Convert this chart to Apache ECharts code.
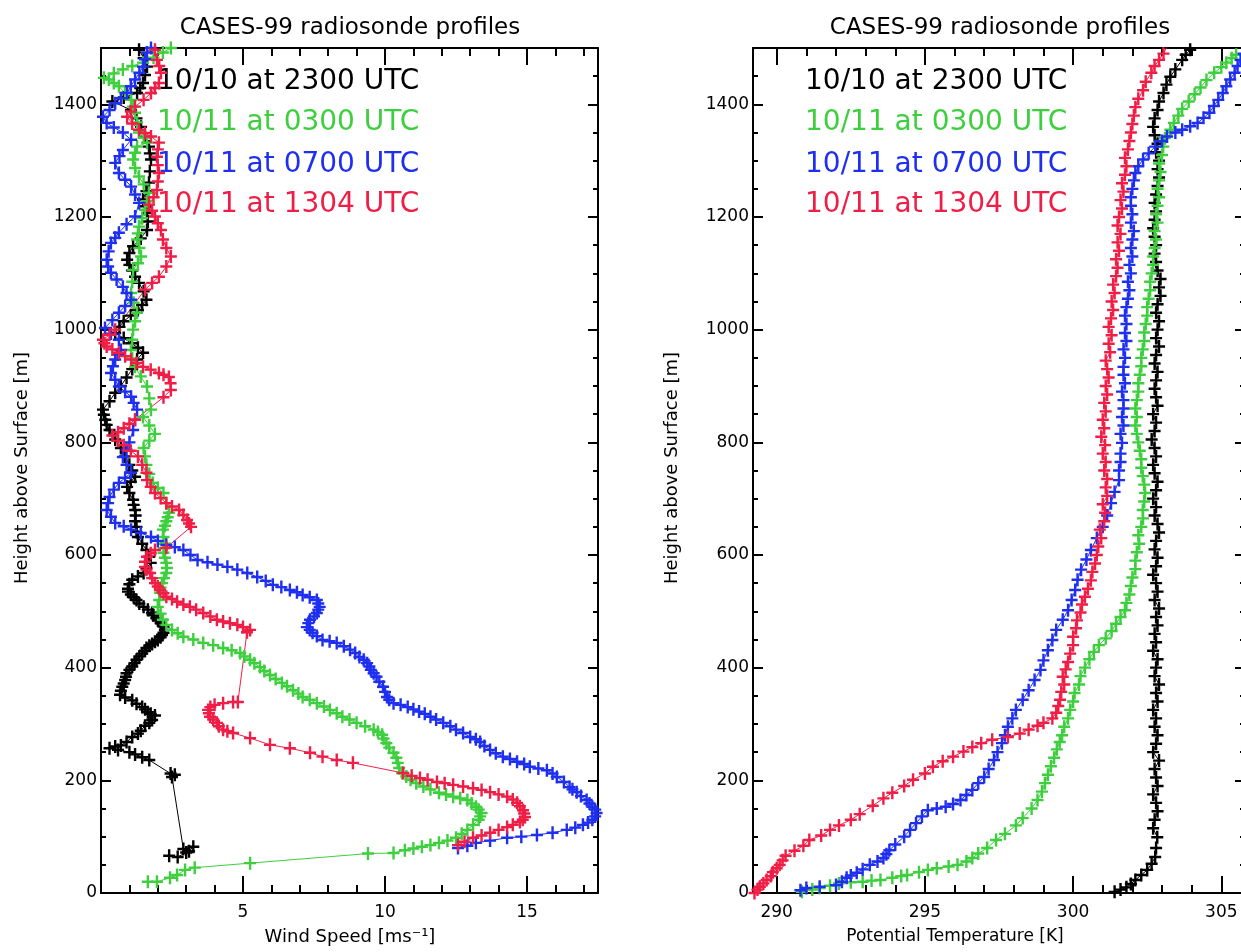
<!DOCTYPE html>
<html>
<head>
<meta charset="utf-8">
<script src="https://cdn.jsdelivr.net/npm/echarts@6/dist/echarts.min.js"></script>
<style>
  html, body { margin: 0; padding: 0; background: #fff; }
  #chart { width: 1241px; height: 952px; }
</style>
</head>
<body>
<div id="chart"></div>
<script>
// sounding labels, one per launch
const launches = ['10/10 at 2300 UTC', '10/11 at 0300 UTC', '10/11 at 0700 UTC', '10/11 at 1304 UTC']
const launchColors = ['#000000', '#3ecf3e', '#1f2ff0', '#f01e46']

// tick values
const windMajor = [0, 5, 10, 15]
const windLabels = [5, 10, 15]
const windMinor = [1, 2, 3, 4, 6, 7, 8, 9, 11, 12, 13, 14, 16, 17]
const thetaMajor = [290, 295, 300, 305]
const thetaMinor = [291, 292, 293, 294, 296, 297, 298, 299, 301, 302, 303, 304]
const heightMajor = [0, 200, 400, 600, 800, 1000, 1200, 1400]
const heightMinor = [50, 100, 150, 250, 300, 350, 450, 500, 550, 650, 700, 750, 850, 900, 950, 1050, 1100, 1150, 1250, 1300, 1350, 1450]

// wind speed profiles [m/s, height m]
const windBlack = [[2.4, 66], [2.7, 64], [3.0, 72], [3.25, 82], [3.1, 74], [2.9, 78], [2.5, 206], [2.6, 210], [2.45, 212], [1.7, 236],
  [1.45, 241], [1.2, 246], [1.0, 250], [0.6, 254], [0.3, 257], [0.5, 260], [0.7, 262], [0.9, 268], [1.1, 277], [1.3, 283], [1.4, 288],
  [1.55, 297], [1.7, 302], [1.8, 307], [1.9, 315], [1.75, 318], [1.65, 321], [1.55, 326], [1.45, 330], [1.25, 336], [1.1, 342], [0.85, 347],
  [0.67, 352], [0.7, 359], [0.75, 366], [0.8, 372], [0.85, 378], [0.88, 384], [0.9, 390], [1.0, 396], [1.1, 402], [1.18, 408], [1.25, 414],
  [1.35, 420], [1.45, 425], [1.55, 430], [1.6, 435], [1.7, 439], [1.8, 442], [1.9, 446], [2.0, 449], [2.1, 454], [2.15, 458], [2.2, 462],
  [2.25, 467], [2.2, 473], [2.1, 479], [2.0, 484], [1.95, 488], [1.85, 493], [1.8, 497], [1.65, 503], [1.5, 508], [1.35, 514], [1.25, 520],
  [1.15, 525], [1.05, 530], [0.95, 535], [0.95, 540], [1.0, 548], [1.1, 556], [1.3, 562], [1.5, 568], [1.6, 577], [1.75, 586], [1.7, 597],
  [1.6, 609], [1.45, 620], [1.3, 632], [1.25, 641], [1.25, 650], [1.2, 660], [1.22, 670], [1.2, 680], [1.15, 689], [1.13, 698], [1.0, 710],
  [0.92, 721], [1.05, 730], [1.2, 739], [1.1, 750], [1.0, 760], [0.85, 775], [0.7, 790], [0.5, 805], [0.3, 822], [0.2, 831], [0.15, 840],
  [0.1, 849], [0.07, 858], [0.3, 873], [0.5, 888], [0.7, 900], [0.9, 915], [1.1, 930], [1.27, 947], [1.48, 959], [1.3, 968], [1.06, 976],
  [0.8, 985], [0.5, 994], [0.65, 1005], [0.8, 1015], [1.05, 1025], [1.3, 1035], [1.45, 1044], [1.6, 1053], [1.5, 1068], [1.34, 1083],
  [1.2, 1094], [1.1, 1105], [1.0, 1115], [0.92, 1124], [1.0, 1136], [1.13, 1148], [1.4, 1162], [1.62, 1177], [1.65, 1192], [1.62, 1207],
  [1.55, 1219], [1.48, 1231], [1.6, 1246], [1.69, 1261], [1.72, 1281], [1.76, 1302], [1.72, 1313], [1.69, 1325], [1.55, 1342], [1.41, 1360],
  [1.25, 1375], [1.06, 1390], [0.4, 1405], [0.8, 1412], [1.27, 1420], [1.38, 1429], [1.48, 1438], [1.55, 1452], [1.62, 1467], [1.5, 1482],
  [1.34, 1497]]
const windGreen = [[1.65, 20], [1.97, 20], [2.43, 27], [2.68, 32], [2.96, 41], [3.3, 45], [5.25, 53], [9.4, 70], [10.3, 71], [10.7, 76],
  [11.0, 79], [11.3, 82], [11.6, 85], [11.9, 89], [12.2, 93], [12.5, 98], [12.7, 105], [12.9, 112], [13.1, 121], [13.3, 130], [13.35, 136],
  [13.4, 142], [13.3, 148], [13.2, 153], [13.05, 159], [12.9, 165], [12.65, 168], [12.4, 171], [12.15, 175], [11.9, 178], [11.6, 184],
  [11.35, 189], [11.1, 195], [10.9, 201], [10.75, 207], [10.6, 213], [10.5, 222], [10.45, 231], [10.4, 240], [10.3, 249], [10.15, 258],
  [10.05, 266], [9.95, 274], [9.9, 281], [9.75, 286], [9.6, 290], [9.3, 296], [9.0, 302], [8.75, 308], [8.5, 313], [8.3, 319], [8.06, 325],
  [7.85, 331], [7.6, 337], [7.35, 343], [7.1, 348], [6.95, 354], [6.76, 360], [6.55, 367], [6.37, 373], [6.15, 380], [5.95, 387], [5.75, 394],
  [5.6, 401], [5.4, 408], [5.25, 414], [5.05, 420], [4.9, 426], [4.6, 431], [4.3, 435], [3.95, 440], [3.6, 444], [3.25, 450], [2.9, 455],
  [2.7, 461], [2.5, 467], [2.3, 476], [2.18, 485], [2.1, 496], [2.0, 508], [2.05, 520], [2.08, 533], [2.1, 542], [2.15, 550], [2.22, 559],
  [2.3, 568], [2.32, 577], [2.3, 586], [2.25, 595], [2.2, 604], [2.22, 612], [2.25, 620], [2.2, 632], [2.18, 645], [2.25, 652], [2.3, 660],
  [2.35, 667], [2.4, 675], [2.3, 692], [2.2, 710], [2.0, 719], [1.83, 728], [1.7, 744], [1.6, 760], [1.55, 775], [1.5, 790], [1.7, 803],
  [1.9, 815], [1.7, 830], [1.48, 845], [1.76, 858], [1.7, 878], [1.62, 899], [1.4, 917], [1.2, 934], [1.1, 949], [1.06, 964], [1.1, 982],
  [1.13, 1000], [1.2, 1015], [1.27, 1030], [1.15, 1048], [1.06, 1065], [1.1, 1085], [1.13, 1106], [1.3, 1118], [1.41, 1130], [1.35, 1145],
  [1.27, 1160], [1.3, 1171], [1.34, 1183], [1.45, 1198], [1.55, 1213], [1.62, 1228], [1.69, 1243], [1.5, 1258], [1.34, 1272], [1.2, 1287],
  [1.13, 1302], [1.2, 1314], [1.27, 1325], [1.62, 1332], [1.5, 1341], [1.34, 1350], [1.27, 1368], [1.2, 1385], [1.13, 1396], [1.06, 1408],
  [0.85, 1420], [0.63, 1432], [0.45, 1438], [0.28, 1444], [0.1, 1447], [0.45, 1455], [0.77, 1462], [1.1, 1468], [1.48, 1474], [1.85, 1483],
  [2.18, 1492], [2.46, 1500]]
const windBlue = [[12.57, 80], [12.9, 84], [13.2, 89], [13.7, 93], [14.3, 98], [14.8, 100], [15.35, 103], [15.9, 107], [16.4, 112],
  [16.7, 116], [16.97, 121], [17.15, 125], [17.3, 130], [17.4, 136], [17.45, 142], [17.4, 148], [17.3, 153], [17.2, 159], [17.1, 165],
  [16.9, 172], [16.75, 179], [16.6, 184], [16.5, 188], [16.3, 197], [16.05, 206], [15.9, 212], [15.7, 218], [15.4, 221], [15.1, 224],
  [14.9, 229], [14.65, 233], [14.4, 238], [14.15, 242], [13.9, 248], [13.7, 254], [13.5, 261], [13.35, 268], [13.2, 273], [13.0, 277],
  [12.75, 284], [12.5, 290], [12.3, 296], [12.05, 302], [11.8, 308], [11.6, 313], [11.4, 318], [11.2, 322], [11.0, 326], [10.8, 330],
  [10.55, 334], [10.3, 337], [10.15, 343], [10.07, 348], [10.0, 357], [9.93, 366], [9.8, 375], [9.7, 384], [9.6, 390], [9.5, 396], [9.45, 402],
  [9.37, 408], [9.25, 414], [9.1, 419], [8.95, 426], [8.77, 432], [8.55, 438], [8.3, 444], [8.05, 447], [7.8, 449], [7.6, 456], [7.45, 462],
  [7.35, 467], [7.25, 472], [7.3, 479], [7.36, 485], [7.5, 491], [7.6, 497], [7.65, 503], [7.7, 508], [7.65, 514], [7.6, 520], [7.35, 525],
  [7.1, 529], [6.9, 534], [6.65, 538], [6.35, 543], [6.05, 547], [5.8, 554], [5.5, 561], [5.15, 568], [4.8, 574], [4.45, 579], [4.1, 583],
  [3.75, 587], [3.4, 591], [3.15, 600], [2.9, 609], [2.6, 614], [2.3, 618], [2.0, 625], [1.76, 632], [1.4, 639], [1.06, 645], [0.8, 651],
  [0.5, 657], [0.35, 668], [0.2, 680], [0.25, 692], [0.3, 703], [0.45, 716], [0.63, 728], [0.85, 737], [1.06, 746], [0.9, 760], [0.77, 774],
  [0.9, 787], [1.0, 800], [1.13, 822], [1.2, 840], [1.27, 858], [1.15, 870], [1.06, 881], [0.85, 890], [0.63, 899], [0.5, 911], [0.35, 923],
  [0.42, 935], [0.5, 947], [0.6, 956], [0.7, 964], [0.63, 982], [0.35, 993], [0.14, 1003], [0.4, 1017], [0.63, 1030], [0.85, 1042],
  [1.06, 1053], [0.9, 1065], [0.77, 1076], [0.55, 1089], [0.35, 1101], [0.25, 1112], [0.2, 1124], [0.27, 1139], [0.35, 1154], [0.5, 1163],
  [0.63, 1172], [0.9, 1187], [1.2, 1201], [1.34, 1225], [1.2, 1240], [1.06, 1254], [0.85, 1266], [0.63, 1278], [0.5, 1296], [0.65, 1308],
  [0.77, 1319], [1.06, 1337], [0.77, 1350], [0.45, 1359], [0.2, 1367], [0.07, 1378], [0.3, 1390], [0.5, 1402], [0.7, 1411], [0.92, 1420],
  [1.05, 1432], [1.2, 1444], [1.35, 1456], [1.48, 1467], [1.55, 1480], [1.62, 1492], [1.76, 1500]]
const windRed = [[12.57, 85], [12.8, 91], [13.1, 98], [13.4, 102], [13.7, 107], [14.0, 112], [14.3, 117], [14.5, 121], [14.75, 126],
  [14.85, 130], [14.93, 135], [14.9, 141], [14.86, 147], [14.75, 154], [14.65, 160], [14.5, 166], [14.3, 171], [14.0, 175], [13.7, 179],
  [13.4, 183], [13.1, 186], [12.75, 189], [12.4, 192], [12.1, 195], [11.83, 197], [11.5, 201], [11.23, 204], [10.94, 208], [10.64, 213],
  [8.87, 231], [8.3, 236], [7.8, 242], [7.36, 249], [6.65, 257], [5.95, 263], [5.25, 275], [4.65, 284], [4.45, 287], [4.3, 290], [4.15, 296],
  [4.08, 302], [3.95, 308], [3.84, 313], [3.8, 319], [3.77, 325], [3.85, 330], [4.0, 334], [4.3, 337], [4.65, 339], [4.82, 339], [5.14, 463],
  [5.25, 467], [5.0, 472], [4.8, 476], [4.54, 479], [4.3, 482], [4.08, 485], [3.85, 491], [3.6, 497], [3.35, 503], [3.13, 508], [2.9, 512],
  [2.68, 517], [2.5, 522], [2.3, 526], [2.2, 532], [2.08, 538], [2.0, 544], [1.9, 550], [1.8, 559], [1.73, 568], [1.6, 574], [1.55, 579],
  [1.55, 588], [1.62, 597], [1.75, 603], [1.9, 609], [2.3, 613], [3.17, 650], [3.1, 656], [3.03, 662], [2.9, 671], [2.75, 680], [2.5, 686],
  [2.3, 692], [2.1, 701], [1.9, 710], [1.75, 721], [1.62, 733], [1.6, 746], [1.45, 760], [1.3, 775], [1.05, 785], [0.8, 795], [0.6, 803],
  [0.4, 812], [0.6, 818], [0.8, 825], [1.0, 833], [1.2, 840], [2.2, 880], [2.46, 893], [2.45, 905], [2.39, 916], [2.2, 920], [2.04, 923],
  [1.75, 929], [1.48, 934], [1.25, 941], [1.06, 947], [0.85, 953], [0.63, 959], [0.4, 965], [0.2, 970], [0.12, 976], [0.07, 982], [0.3, 991],
  [0.5, 1000], [1.55, 1071], [1.8, 1083], [2.04, 1094], [2.3, 1112], [2.46, 1130], [2.3, 1145], [2.18, 1160], [2.11, 1177], [2.0, 1189],
  [1.9, 1201], [1.8, 1211], [1.69, 1222], [1.85, 1235], [1.97, 1248], [2.0, 1263], [2.04, 1278], [2.0, 1292], [1.97, 1307], [2.0, 1320],
  [2.04, 1332], [1.76, 1343], [1.55, 1349], [1.34, 1355], [1.1, 1366], [0.92, 1378], [1.05, 1387], [1.2, 1396], [1.5, 1408], [1.76, 1420],
  [1.9, 1429], [2.04, 1438], [2.11, 1456], [2.05, 1468], [1.97, 1479], [1.9, 1497]]

// potential temperature profiles [K, height m]
const thetaBlack = [[301.4, 2], [301.6, 6], [301.8, 10], [301.95, 16], [302.1, 23], [302.3, 32], [302.5, 41], [302.65, 52], [302.77, 64],
  [302.8, 80], [302.84, 99], [302.7, 115], [302.75, 130], [302.85, 145], [302.8, 160], [302.7, 175], [302.85, 190], [302.8, 205],
  [302.75, 220], [302.9, 235], [302.7, 250], [302.8, 265], [302.85, 280], [302.75, 295], [302.8, 310], [302.7, 325], [302.85, 340],
  [302.8, 355], [302.9, 370], [302.75, 385], [302.8, 400], [302.85, 415], [302.7, 430], [302.8, 445], [302.75, 460], [302.85, 475],
  [302.8, 490], [302.9, 505], [302.75, 520], [302.85, 535], [302.8, 550], [302.7, 565], [302.8, 580], [302.85, 595], [302.75, 610],
  [302.8, 625], [302.9, 640], [302.85, 655], [302.75, 670], [302.8, 685], [302.7, 700], [302.8, 715], [302.85, 730], [302.75, 745],
  [302.7, 760], [302.8, 775], [302.75, 790], [302.65, 805], [302.75, 820], [302.8, 835], [302.7, 850], [302.85, 865], [302.8, 880],
  [302.75, 895], [302.8, 910], [302.85, 925], [302.75, 940], [302.8, 955], [302.9, 970], [302.8, 985], [302.85, 1000], [302.9, 1015],
  [302.8, 1030], [302.85, 1045], [302.95, 1060], [302.9, 1075], [302.95, 1090], [302.85, 1105], [302.8, 1120], [302.75, 1135], [302.8, 1150],
  [302.75, 1165], [302.7, 1180], [302.75, 1195], [302.8, 1210], [302.75, 1225], [302.8, 1240], [302.85, 1255], [302.9, 1270], [302.85, 1285],
  [302.9, 1300], [302.8, 1315], [302.85, 1330], [302.75, 1345], [302.7, 1360], [302.75, 1375], [302.85, 1390], [302.9, 1405], [303.05, 1420],
  [303.15, 1435], [303.28, 1449], [303.45, 1462], [303.68, 1479], [303.8, 1488], [303.95, 1497]]
const thetaGreen = [[290.85, 2], [291.2, 6], [291.45, 9], [291.8, 13], [292.1, 17], [292.5, 19], [292.9, 20], [293.2, 22], [293.5, 23],
  [293.9, 27], [294.2, 30], [294.4, 32], [294.8, 37], [295.1, 41], [295.4, 44], [295.8, 47], [296.1, 50], [296.4, 56], [296.6, 62],
  [296.8, 70], [297.1, 80], [297.4, 94], [297.7, 105], [298.07, 120], [298.3, 133], [298.6, 150], [298.8, 165], [298.95, 180], [299.05, 195],
  [299.15, 210], [299.25, 225], [299.36, 240], [299.45, 255], [299.55, 268], [299.63, 280], [299.7, 295], [299.83, 310], [299.9, 325],
  [300.0, 340], [300.05, 355], [300.2, 370], [300.25, 385], [300.4, 400], [300.55, 415], [300.7, 428], [300.87, 440], [301.1, 452],
  [301.3, 465], [301.45, 478], [301.6, 490], [301.75, 502], [301.8, 515], [301.9, 530], [301.95, 545], [302.0, 560], [302.1, 575],
  [302.1, 590], [302.15, 605], [302.23, 620], [302.2, 635], [302.3, 650], [302.36, 665], [302.35, 680], [302.4, 695], [302.43, 710],
  [302.4, 725], [302.35, 740], [302.3, 755], [302.3, 770], [302.25, 785], [302.2, 800], [302.15, 815], [302.1, 830], [302.15, 845],
  [302.1, 860], [302.15, 875], [302.2, 890], [302.2, 905], [302.25, 920], [302.3, 935], [302.3, 950], [302.35, 965], [302.4, 980],
  [302.4, 995], [302.45, 1010], [302.5, 1025], [302.5, 1040], [302.55, 1055], [302.6, 1070], [302.6, 1085], [302.65, 1100], [302.7, 1115],
  [302.7, 1130], [302.75, 1145], [302.8, 1160], [302.75, 1175], [302.85, 1190], [302.8, 1205], [302.85, 1220], [302.9, 1235], [302.85, 1250],
  [302.9, 1265], [302.95, 1280], [302.9, 1295], [303.0, 1310], [303.04, 1325], [303.1, 1340], [303.28, 1355], [303.4, 1367], [303.55, 1380],
  [303.68, 1392], [303.9, 1405], [304.1, 1418], [304.3, 1430], [304.5, 1443], [304.76, 1456], [305.0, 1466], [305.17, 1474],
  [305.35, 1482], [305.5, 1488]]
const thetaBlue = [[290.8, 5], [291.0, 9], [291.45, 11], [292.0, 14], [292.2, 20], [292.36, 27], [292.5, 31], [292.7, 36], [292.9, 42],
  [293.14, 50], [293.4, 56], [293.6, 62], [293.7, 69], [293.8, 76], [294.0, 86], [294.3, 100], [294.5, 112], [294.7, 124], [294.9, 136],
  [295.1, 147], [295.4, 150], [295.7, 153], [295.95, 158], [296.2, 165], [296.4, 174], [296.6, 183], [296.8, 195], [297.0, 206],
  [297.15, 220], [297.33, 236], [297.45, 250], [297.6, 266], [297.7, 280], [297.8, 295], [297.95, 310], [298.07, 325], [298.3, 343],
  [298.5, 360], [298.7, 378], [298.9, 396], [299.0, 413], [299.15, 431], [299.3, 449], [299.43, 467], [299.65, 485], [299.83, 502],
  [299.95, 520], [300.07, 538], [300.15, 556], [300.27, 574], [300.45, 592], [300.6, 609], [300.8, 630], [301.0, 650], [301.15, 670],
  [301.28, 692], [301.4, 712], [301.55, 733], [301.55, 750], [301.6, 765], [301.6, 780], [301.65, 799], [301.6, 815], [301.7, 830],
  [301.65, 845], [301.7, 860], [301.7, 875], [301.65, 890], [301.75, 905], [301.7, 920], [301.7, 934], [301.75, 950], [301.7, 965],
  [301.8, 980], [301.75, 994], [301.8, 1010], [301.75, 1025], [301.8, 1040], [301.85, 1055], [301.9, 1070], [301.85, 1085], [301.95, 1100],
  [301.9, 1115], [302.0, 1130], [301.95, 1145], [302.0, 1160], [302.05, 1175], [301.95, 1190], [302.0, 1205], [301.95, 1220],
  [301.95, 1235], [302.0, 1250], [302.05, 1265], [302.1, 1278], [302.2, 1290], [302.36, 1302], [302.55, 1313], [302.77, 1325], [303.0, 1335],
  [303.17, 1343], [303.45, 1350], [303.68, 1355], [303.95, 1361], [304.2, 1367], [304.4, 1376], [304.6, 1385], [304.75, 1397], [304.9, 1408],
  [305.05, 1420], [305.17, 1432], [305.3, 1444], [305.45, 1456], [305.55, 1468], [305.65, 1479], [305.75, 1490]]
const thetaRed = [[289.25, 0], [289.35, 6], [289.43, 11], [289.55, 17], [289.66, 23], [289.8, 30], [289.87, 37], [290.0, 44], [290.1, 50],
  [290.2, 58], [290.3, 66], [290.6, 75], [290.9, 84], [291.1, 94], [291.5, 102], [291.8, 112], [292.1, 120], [292.5, 130], [292.8, 140],
  [293.24, 155], [293.6, 168], [293.9, 178], [294.3, 190], [294.6, 201], [295.0, 212], [295.27, 224], [295.6, 234], [295.95, 242],
  [296.3, 251], [296.6, 259], [296.9, 266], [297.27, 272], [297.8, 277], [298.2, 283], [298.5, 290], [298.8, 297], [299.0, 302],
  [299.3, 310], [299.43, 320], [299.5, 332], [299.56, 343], [299.6, 357], [299.7, 370], [299.65, 384], [299.75, 397], [299.83, 410],
  [299.9, 425], [300.0, 440], [300.0, 455], [300.1, 470], [300.13, 484], [300.25, 498], [300.3, 512], [300.4, 526], [300.5, 540],
  [300.6, 555], [300.65, 570], [300.74, 585], [300.8, 600], [300.85, 615], [300.95, 630], [300.9, 645], [301.05, 660], [301.08, 675],
  [301.0, 690], [301.15, 705], [301.1, 720], [301.15, 735], [301.05, 750], [301.1, 765], [301.0, 780], [301.08, 795], [300.95, 810],
  [301.05, 825], [301.0, 840], [301.1, 855], [301.05, 870], [301.15, 885], [301.1, 900], [301.2, 915], [301.15, 930], [301.1, 945],
  [301.25, 960], [301.2, 975], [301.3, 990], [301.2, 1005], [301.28, 1020], [301.35, 1035], [301.3, 1050], [301.4, 1065], [301.35, 1080],
  [301.45, 1095], [301.5, 1110], [301.45, 1125], [301.55, 1140], [301.5, 1155], [301.6, 1170], [301.5, 1185], [301.55, 1200], [301.65, 1215],
  [301.6, 1230], [301.7, 1245], [301.65, 1260], [301.75, 1275], [301.8, 1290], [301.75, 1305], [301.85, 1320], [301.9, 1335], [301.95, 1350],
  [302.0, 1365], [302.05, 1380], [302.1, 1395], [302.2, 1410], [302.36, 1425], [302.45, 1440], [302.64, 1456], [302.75, 1468],
  [302.9, 1479], [303.05, 1490], [303.17, 1502]]

const windProfiles = [windBlack, windGreen, windBlue, windRed]
const thetaProfiles = [thetaBlack, thetaGreen, thetaBlue, thetaRed]

const chart = echarts.init(document.getElementById('chart'))

const plus = 'path://M4.8,0H7.2V5.3H12V7.7H7.2V13H4.8V7.7H0V5.3H4.8Z'
const font = '"DejaVu Sans", "Liberation Sans", sans-serif'

// one axis of a box frame; main ones carry the line, minor ones only short ticks
function frameAxis(gridIndex, position, min, max, ticks, len, withLine, labels, labelMargin) {
  return {
    type: 'value', gridIndex, position, min, max,
    axisLine: { show: withLine, onZero: false, lineStyle: { color: '#000', width: 2 } },
    axisTick: { show: true, inside: true, length: len, customValues: ticks, lineStyle: { color: '#000', width: 2 } },
    axisLabel: labels ? {
      show: true, customValues: labels, margin: labelMargin, color: '#000',
      fontFamily: font, fontSize: 17, formatter: v => String(v)
    } : { show: false },
    splitLine: { show: false },
    minorTick: { show: false }
  }
}

function xFrame(gi, min, max, major, minor, labels) {
  return [
    frameAxis(gi, 'bottom', min, max, major, 17, true, labels, 11),
    frameAxis(gi, 'bottom', min, max, minor, 8, false),
    frameAxis(gi, 'top', min, max, major, 17, true),
    frameAxis(gi, 'top', min, max, minor, 8, false)
  ]
}
function yFrame(gi) {
  return [
    frameAxis(gi, 'left', 0, 1500, heightMajor, 10, true, heightMajor, 4),
    frameAxis(gi, 'left', 0, 1500, heightMinor, 5, false),
    frameAxis(gi, 'right', 0, 1500, heightMajor, 10, true),
    frameAxis(gi, 'right', 0, 1500, heightMinor, 5, false)
  ]
}

function profile(gi, i, data) {
  return {
    type: 'line', name: launches[i], data,
    xAxisIndex: gi * 4, yAxisIndex: gi * 4,
    symbol: plus, symbolSize: [12, 13], showSymbol: true,
    lineStyle: { color: launchColors[i], width: 1 },
    itemStyle: { color: launchColors[i] },
    silent: true, clip: true
  }
}

function text(x, y, str, size, color, extra) {
  return Object.assign({
    type: 'text', x, y, z: 0, silent: true,
    style: { text: str, fill: color || '#000', font: size + 'px ' + font, align: 'center', verticalAlign: 'middle' }
  }, extra || {})
}

const panels = [{ left: 101, cx: 350, nameX: 22 }, { left: 753, cx: 1000, nameX: 672 }]
const legendY = [82, 123, 165, 205]
const graphics = []
panels.forEach((p, gi) => {
  graphics.push(text(p.cx, 28, 'CASES-99 radiosonde profiles', 23))
  graphics.push(text(p.nameX, 468, 'Height above Surface [m]', 18, '#000', { rotation: Math.PI / 2 }))
  launches.forEach((s, i) => {
    const t = text(p.left + 56 + (gi ? -4 : 0), legendY[i], s, 28, launchColors[i])
    t.style.align = 'left'
    graphics.push(t)
  })
})
graphics.push(text(350, 937, 'Wind Speed [ms⁻¹]', 18))
graphics.push(text(955, 937, 'Potential Temperature [K]', 17))

chart.setOption({
  animation: false,
  backgroundColor: '#fff',
  grid: [
    { left: 101, top: 48, width: 497, height: 845, outerBoundsMode: 'none', containLabel: false },
    { left: 753, top: 48, width: 492, height: 845, outerBoundsMode: 'none', containLabel: false }
  ],
  xAxis: [].concat(
    xFrame(0, 0, 17.5, windMajor, windMinor, windLabels),
    xFrame(1, 289.2, 305.8, thetaMajor, thetaMinor, thetaMajor)
  ),
  yAxis: [].concat(yFrame(0), yFrame(1)),
  graphic: { elements: graphics },
  series: [].concat(
    windProfiles.map((d, i) => profile(0, i, d)),
    thetaProfiles.map((d, i) => profile(1, i, d))
  )
})
</script>
</body>
</html>
